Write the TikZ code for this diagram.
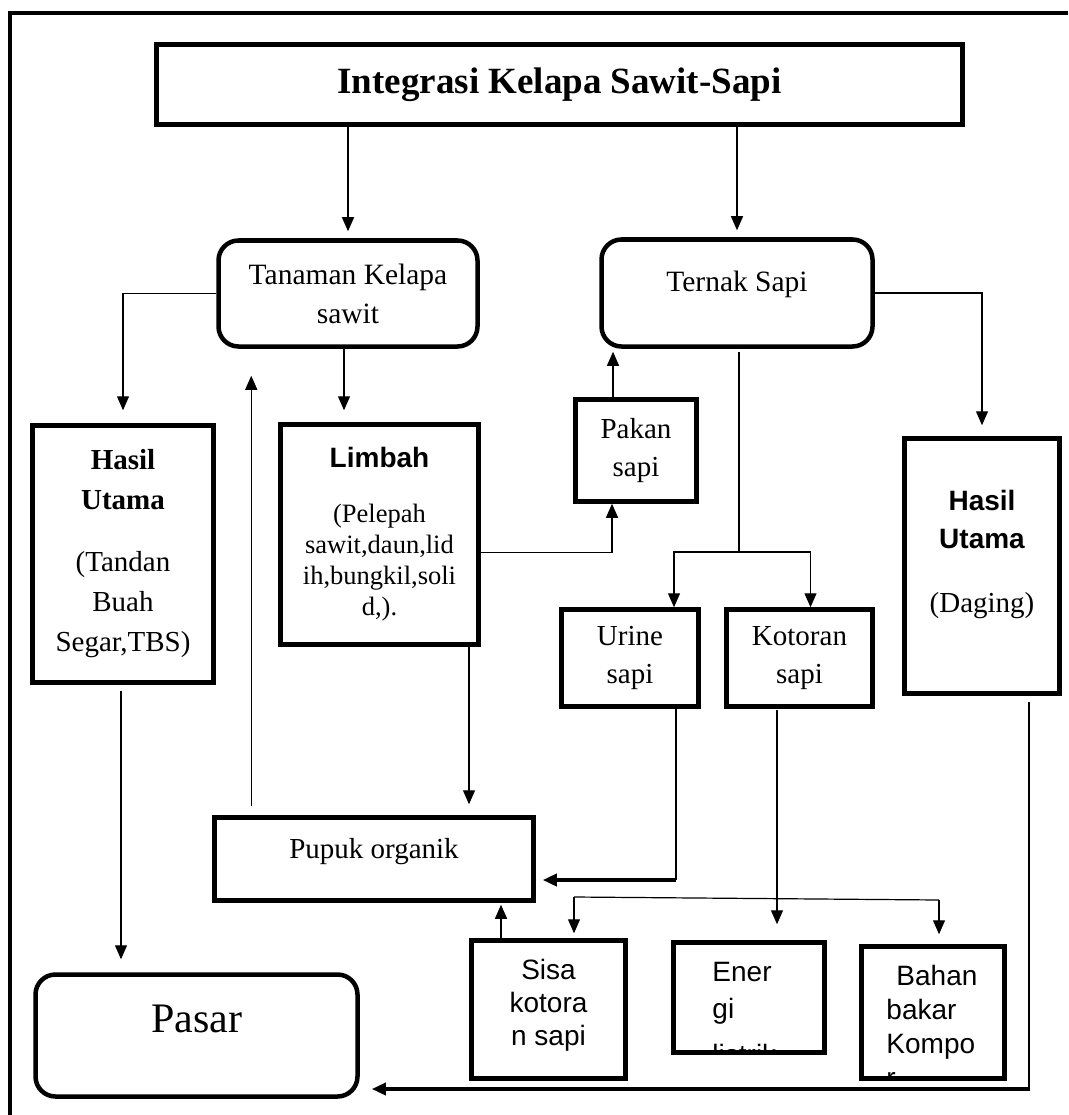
\documentclass[tikz,border=0pt]{standalone}
\usepackage{fontspec}
\setmainfont{Liberation Serif}
\setsansfont{Liberation Sans}
\usetikzlibrary{arrows.meta}

\begin{document}
\begin{tikzpicture}[x=1pt, y=-1pt,
  kotak/.style={draw, line width=4.5pt, align=center},
  bulat/.style={kotak, rounded corners=20pt},
  garis/.style={line width=1.2pt},
  panah/.style={garis, -{Triangle[length=14pt, width=12pt]}},
  tebal/.style={panah, line width=4pt}]
\tikzstyle{every node}+=[inner sep=0pt]
\useasboundingbox (0,0) rectangle (1068,1115);
\draw [line width=4pt] (1068,13) -- (10,13) -- (10,1115);
\node [kotak, minimum width=806pt, minimum height=80pt, font=\bfseries\fontsize{37}{42}\selectfont] (integrasi) at (559.5,84.5) {Integrasi Kelapa Sawit-Sapi};
\node [bulat, minimum width=259pt, minimum height=106pt, font=\fontsize{29.5}{39}\selectfont] (tanaman) at (348,293.5) {Tanaman Kelapa\\sawit};
\node [bulat, minimum width=271pt, minimum height=107pt, font=\fontsize{29.5}{39}\selectfont] (ternak) at (737,293) {Ternak Sapi\\[-16pt]\mbox{}};
\node [kotak, minimum width=181pt, minimum height=257pt, font=\fontsize{29}{40}\selectfont] (hasilsawit) at (123,554) {\textbf{Hasil}\\\textbf{Utama}\\[22pt](Tandan\\Buah\\Segar,TBS)};
\node [kotak, minimum width=198pt, minimum height=220pt, font=\fontsize{26.5}{31}\selectfont] (limbah) at (379.5,534.5) {{\sffamily\bfseries\fontsize{28}{31}\selectfont Limbah}\\[24pt](Pelepah\\sawit,daun,lid\\ih,bungkil,soli\\d,).};
\node [kotak, minimum width=121pt, minimum height=102pt, font=\fontsize{29}{38}\selectfont] (pakan) at (636,450.5) {Pakan\\sapi};
\node [kotak, minimum width=137pt, minimum height=97pt, font=\fontsize{29}{38}\selectfont] (urine) at (630,658) {Urine\\sapi};
\node [kotak, minimum width=146pt, minimum height=97pt, font=\fontsize{29}{38}\selectfont] (kotoran) at (799.5,658) {Kotoran\\sapi};
\node [kotak, minimum width=155pt, minimum height=255pt, font=\sffamily\bfseries\fontsize{28}{38}\selectfont] (hasilsapi) at (982,566) {Hasil\\Utama\\[26pt]{\rmfamily\mdseries\fontsize{29}{38}\selectfont (Daging)}\\[-8pt]\mbox{}};
\node [kotak, minimum width=319pt, minimum height=83pt, font=\fontsize{29}{35}\selectfont] (pupuk) at (374,859) {Pupuk organik\\[-14pt]\mbox{}};
\node [kotak, minimum width=154pt, minimum height=138pt] (sisa) at (548.5,1009.5) {};
\node [kotak, minimum width=151pt, minimum height=110pt] (energi) at (749,997.5) {};
\node [kotak, minimum width=143pt, minimum height=132pt] (bahan) at (933,1012.5) {};
\node [bulat, minimum width=322pt, minimum height=122pt, font=\fontsize{42}{50}\selectfont] (pasar) at (196.5,1035.5) {Pasar\\[-17pt]\mbox{}};
\node [anchor=north, align=center, font=\sffamily\fontsize{28}{33}\selectfont] (tekssisa) at ([yshift=-21pt]sisa.north) {Sisa\\kotora\\n sapi};
\begin{scope}
\clip ([xshift=4.5pt, yshift=-4.5pt]energi.north west) rectangle ([xshift=-4.5pt, yshift=4.5pt]energi.south east);
\node [anchor=north west, align=left, font=\sffamily\fontsize{28}{37}\selectfont] (teksenergi) at ([xshift=41pt, yshift=-22pt]energi.north west) {Ener\\gi\\[9pt]listrik};
\end{scope}
\begin{scope}
\clip ([xshift=4.5pt, yshift=-4.5pt]bahan.north west) rectangle ([xshift=-4.5pt, yshift=4.5pt]bahan.south east);
\node [anchor=north west, align=left, font=\sffamily\fontsize{28}{34}\selectfont] (teksbahan) at ([xshift=27pt, yshift=-21pt]bahan.north west) {\hspace*{10pt}Bahan\\bakar\\Kompo\\r};
\end{scope}
\coordinate (cabang) at (739,552);
\coordinate (belokurine) at (676,880);
\coordinate (bagikiri) at (574,897);
\coordinate (bagikanan) at (939,900);
\coordinate (belokpasar) at (1029,1089);
\draw [panah, shorten >=7pt] (integrasi.south -| tanaman.north) -- (tanaman.north);
\draw [panah, shorten >=7pt] (integrasi.south -| ternak.north) -- (ternak.north);
\draw [panah, shorten >=13pt] (tanaman.west) -| (hasilsawit.north);
\draw [panah, shorten >=11pt] (ternak.east) -| (hasilsapi.north);
\draw [panah, shorten >=12pt] ([xshift=-4pt]tanaman.south) -- ([xshift=-4pt]tanaman.south |- limbah.north);
\draw [panah, shorten <=9pt, shorten >=27pt] ([xshift=39pt]pupuk.north west) -- ([xshift=39pt]pupuk.north west |- tanaman.south);
\draw [panah] ([yshift=-18pt]limbah.east) -| ([xshift=-24pt]pakan.south);
\draw [panah, shorten >=3pt] ([xshift=-23pt]pakan.north) -- ([xshift=-23pt]pakan.north |- ternak.south);
\draw [garis, shorten <=3pt] (ternak.south -| cabang) -- (cabang);
\draw [panah] (cabang) -| ([xshift=44pt]urine.north);
\draw [panah] (cabang) -| ([xshift=11pt]kotoran.north);
\draw [garis] ([xshift=46pt]urine.south) -- (belokurine);
\draw [tebal, shorten >=7pt] (belokurine) -- (belokurine -| pupuk.east);
\draw [panah, shorten >=11pt] ([xshift=89.5pt]limbah.south) -- ([xshift=89.5pt]limbah.south |- pupuk.north);
\draw [panah, shorten <=6pt, shorten >=13pt] ([xshift=-2pt]hasilsawit.south) -- ([xshift=-2pt]hasilsawit.south |- pasar.north);
\draw [panah, shorten <=1pt, shorten >=16pt] ([xshift=-22.5pt]kotoran.south) -- ([xshift=-22.5pt]kotoran.south |- energi.north);
\draw [garis] (bagikiri) -- (bagikanan);
\draw [panah, shorten >=5pt] (bagikiri) -- (bagikiri |- sisa.north);
\draw [panah, shorten >=10pt] (bagikanan) -- (bagikanan |- bahan.north);
\draw [panah, shorten >=2pt] ([xshift=-47.5pt]sisa.north) -- ([xshift=-47.5pt]sisa.north |- pupuk.south);
\draw [garis, shorten <=6pt] ([xshift=47pt]hasilsapi.south) -- (belokpasar);
\draw [tebal, shorten >=12pt] ([xshift=1pt]belokpasar) -- (belokpasar -| pasar.east);
\end{tikzpicture}
\end{document}
